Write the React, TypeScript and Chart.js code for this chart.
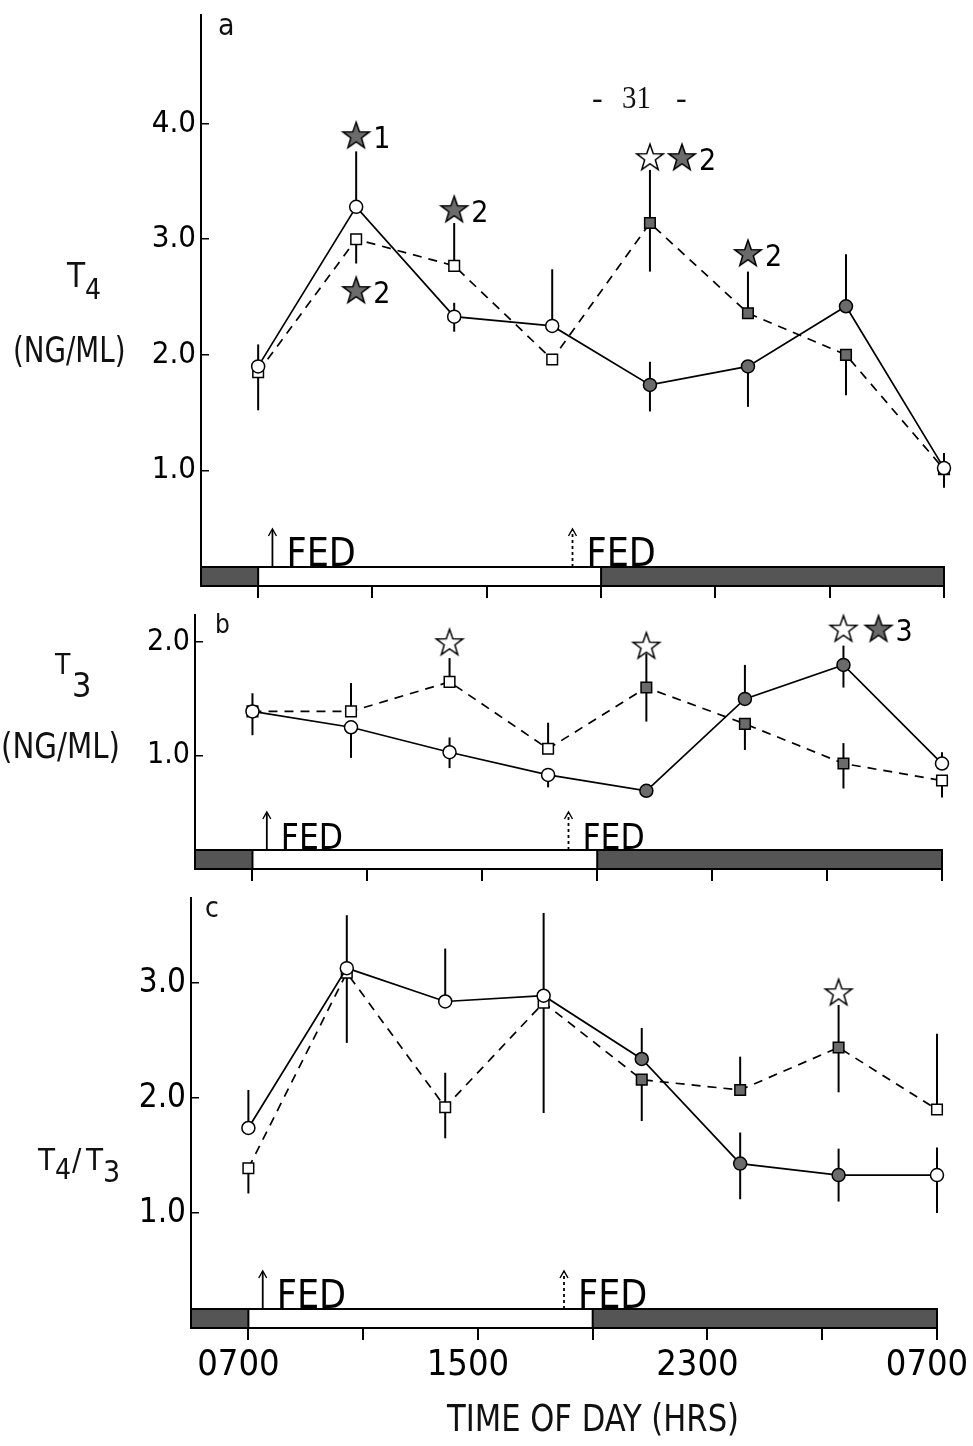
import React, { useEffect, useRef } from "react";
import { Chart, registerables } from "chart.js";

Chart.register(...registerables);

const FONT = '"Liberation Sans Narrow", "DejaVu Sans Condensed", "Roboto Condensed", "Liberation Sans", sans-serif';
const SERIF = '"Liberation Serif", "DejaVu Serif", serif';
const GREY = "#6b6b6b";
const DARK = "#555555";
const CANVAS_W = 1100;

// ---------- shared time axis (hours after 07:00) ----------
const SAMPLE_HOURS = [0, 3.43, 6.86, 10.29, 13.71, 17.14, 20.57, 24];
const NIGHT = [false, false, false, false, true, true, true, false];
const LIGHT_ON = 0;
const LIGHT_OFF = 12;
const FED_HOURS = [0.5, 11];
const FED_DOTTED = [false, true];
const X_TICKS = [0, 4, 8, 12, 16, 20, 24];
const X_TICK_LABELS = ["0700", "", "1500", "", "2300", "", "0700"];

// ---------- panel a : T4 (ng/ml) ----------
const T4_CIRCLE = [1.9, 3.28, 2.33, 2.25, 1.74, 1.9, 2.42, 1.02];
const T4_CIRCLE_ERR = [[1.52, 2.09], [3.28, 3.76], [2.2, 2.45], [2.25, 2.74], [1.51, 1.94], [1.55, 1.9], [2.42, 2.87], [0.85, 1.15]];
const T4_SQUARE = [1.85, 3.0, 2.77, 1.96, 3.14, 2.36, 2.0, 1.01];
const T4_SQUARE_ERR = [null, [2.79, 3.0], [2.77, 3.14], null, [2.72, 3.6], [2.36, 2.72], [1.65, 2.0], null];
const T4_STARS = [
  { x: 3.43, y: 3.9, filled: true, note: "1" },
  { x: 3.43, y: 2.56, filled: true, note: "2" },
  { x: 6.86, y: 3.26, filled: true, note: "2" },
  { x: 13.71, y: 3.71, filled: false, note: "" },
  { x: 14.83, y: 3.71, filled: true, note: "2" },
  { x: 17.14, y: 2.88, filled: true, note: "2" },
];
const T4_Y_TICKS = [1, 2, 3, 4];

// ---------- panel b : T3 (ng/ml) ----------
const T3_CIRCLE = [1.39, 1.25, 1.03, 0.83, 0.69, 1.5, 1.8, 0.93];
const T3_CIRCLE_ERR = [[1.18, 1.55], [0.98, 1.25], [0.89, 1.16], [0.72, 0.83], null, [1.5, 1.8], [1.6, 1.97], [0.93, 1.03]];
const T3_SQUARE = [1.39, 1.39, 1.65, 1.06, 1.6, 1.28, 0.93, 0.78];
const T3_SQUARE_ERR = [null, [1.39, 1.64], [1.65, 1.86], [1.06, 1.29], [1.3, 1.9], [1.05, 1.28], [0.71, 1.11], [0.63, 0.78]];
const T3_STARS = [
  { x: 6.86, y: 2.0, filled: false, note: "" },
  { x: 13.71, y: 1.97, filled: false, note: "" },
  { x: 20.57, y: 2.12, filled: false, note: "" },
  { x: 21.79, y: 2.12, filled: true, note: "3" },
];
const T3_Y_TICKS = [1, 2];

// ---------- panel c : T4/T3 ----------
const RATIO_CIRCLE = [1.74, 3.13, 2.84, 2.89, 2.34, 1.43, 1.33, 1.33];
const RATIO_CIRCLE_ERR = [[1.74, 2.07], [2.48, 3.59], [2.84, 3.3], [1.87, 3.61], [2.34, 2.61], [1.12, 1.7], [1.1, 1.56], [1.0, 1.57]];
const RATIO_SQUARE = [1.39, 3.09, 1.92, 2.83, 2.16, 2.07, 2.44, 1.9];
const RATIO_SQUARE_ERR = [[1.17, 1.39], null, [1.65, 2.22], null, [1.8, 2.16], [2.07, 2.36], [2.05, 2.81], [1.9, 2.56]];
const RATIO_STARS = [{ x: 20.57, y: 2.92, filled: false, note: "" }];
const RATIO_Y_TICKS = [1, 2, 3];

type Star = { x: number; y: number; filled: boolean; note: string };
type Spec = {
  circles: number[];
  circleErr: (number[] | null)[];
  squares: number[];
  squareErr: (number[] | null)[];
  stars: Star[];
  yTicks: number[];
  yMax: number;
  left: number;
  right: number;
  top: number;
  bottom: number;
  canvasTop: number;
  canvasBottom: number;
  yFont: number;
  fedFont: number;
  showX: boolean;
};

const PANEL_A: Spec = {
  circles: T4_CIRCLE, circleErr: T4_CIRCLE_ERR, squares: T4_SQUARE, squareErr: T4_SQUARE_ERR,
  stars: T4_STARS, yTicks: T4_Y_TICKS, yMax: 4.94,
  left: 201, right: 944, top: 15, bottom: 586, canvasTop: -35, canvasBottom: 646,
  yFont: 31, fedFont: 39, showX: false,
};
const PANEL_B: Spec = {
  circles: T3_CIRCLE, circleErr: T3_CIRCLE_ERR, squares: T3_SQUARE, squareErr: T3_SQUARE_ERR,
  stars: T3_STARS, yTicks: T3_Y_TICKS, yMax: 2.24,
  left: 195, right: 942, top: 615, bottom: 869, canvasTop: 565, canvasBottom: 929,
  yFont: 30, fedFont: 35, showX: false,
};
const PANEL_C: Spec = {
  circles: RATIO_CIRCLE, circleErr: RATIO_CIRCLE_ERR, squares: RATIO_SQUARE, squareErr: RATIO_SQUARE_ERR,
  stars: RATIO_STARS, yTicks: RATIO_Y_TICKS, yMax: 3.74,
  left: 191, right: 937, top: 898, bottom: 1328, canvasTop: 848, canvasBottom: 1446,
  yFont: 33, fedFont: 39, showX: true,
};

function makeStar(filled: boolean): HTMLCanvasElement {
  const c = document.createElement("canvas");
  c.width = 32;
  c.height = 32;
  const ctx = c.getContext("2d")!;
  ctx.beginPath();
  for (let i = 0; i < 10; i++) {
    const r = i % 2 === 0 ? 14 : 5.6;
    const a = -Math.PI / 2 + (i * Math.PI) / 5;
    const px = 16 + r * Math.cos(a);
    const py = 17 + r * Math.sin(a);
    if (i === 0) ctx.moveTo(px, py);
    else ctx.lineTo(px, py);
  }
  ctx.closePath();
  ctx.fillStyle = filled ? GREY : "#fff";
  ctx.fill();
  ctx.lineWidth = 1.5;
  ctx.strokeStyle = "#000";
  ctx.stroke();
  return c;
}

const lightBarPlugin = {
  id: "lightbar",
  beforeDatasetsDraw(chart: any, _a: any, opts: any) {
    const { ctx, chartArea: ca } = chart;
    const xs = chart.scales.x;
    const h = opts.thickness;
    const top = ca.bottom - h;
    const xOn = xs.getPixelForValue(LIGHT_ON);
    const xOff = xs.getPixelForValue(LIGHT_OFF);
    ctx.save();
    ctx.fillStyle = DARK;
    ctx.fillRect(ca.left, top, xOn - ca.left, h);
    ctx.fillRect(xOff, top, ca.right - xOff, h);
    ctx.fillStyle = "#fff";
    ctx.fillRect(xOn, top, xOff - xOn, h);
    ctx.strokeStyle = "#000";
    ctx.lineWidth = 2;
    ctx.strokeRect(ca.left, top, ca.right - ca.left, h);
    ctx.beginPath();
    ctx.moveTo(xOn, top);
    ctx.lineTo(xOn, ca.bottom);
    ctx.moveTo(xOff, top);
    ctx.lineTo(xOff, ca.bottom);
    ctx.stroke();
    ctx.restore();
  },
};

const errorBarPlugin = {
  id: "errbars",
  beforeDatasetsDraw(chart: any) {
    const { ctx } = chart;
    const xs = chart.scales.x;
    const ys = chart.scales.y;
    ctx.save();
    ctx.strokeStyle = "#000";
    ctx.lineWidth = 2;
    ctx.setLineDash([]);
    chart.data.datasets.forEach((ds: any) => {
      if (!ds.errorBars) return;
      ds.errorBars.forEach((e: number[] | null, i: number) => {
        if (!e) return;
        const x = xs.getPixelForValue(ds.data[i].x);
        ctx.beginPath();
        ctx.moveTo(x, ys.getPixelForValue(e[0]));
        ctx.lineTo(x, ys.getPixelForValue(e[1]));
        ctx.stroke();
      });
    });
    ctx.restore();
  },
};

const annotationPlugin = {
  id: "notes",
  afterDatasetsDraw(chart: any, _a: any, opts: any) {
    const { ctx, chartArea: ca } = chart;
    const xs = chart.scales.x;
    const ys = chart.scales.y;
    ctx.save();
    // star notes
    ctx.fillStyle = "#000";
    ctx.font = `30px ${FONT}`;
    ctx.textAlign = "left";
    ctx.textBaseline = "middle";
    chart.data.datasets.forEach((ds: any) => {
      if (!ds.starNotes) return;
      ds.starNotes.forEach((n: string, i: number) => {
        if (!n) return;
        ctx.fillText(n, xs.getPixelForValue(ds.data[i].x) + 17, ys.getPixelForValue(ds.data[i].y) + 5);
      });
    });
    // FED arrows
    const barTop = ca.bottom - opts.thickness;
    FED_HOURS.forEach((hr, i) => {
      const x = xs.getPixelForValue(hr);
      ctx.strokeStyle = "#000";
      ctx.lineWidth = 1.8;
      ctx.setLineDash(FED_DOTTED[i] ? [3, 3] : []);
      ctx.beginPath();
      ctx.moveTo(x, barTop);
      ctx.lineTo(x, barTop - 37);
      ctx.stroke();
      ctx.setLineDash([]);
      ctx.lineWidth = 1.4;
      ctx.beginPath();
      ctx.moveTo(x - 4, barTop - 31);
      ctx.lineTo(x, barTop - 38);
      ctx.lineTo(x + 4, barTop - 31);
      ctx.stroke();
      ctx.font = `${opts.fedFont}px ${FONT}`;
      ctx.textBaseline = "alphabetic";
      ctx.fillText("FED", x + 14, barTop - 1);
    });
    ctx.restore();
  },
};

function buildConfig(p: Spec): any {
  const starF = makeStar(true);
  const starO = makeStar(false);
  const fills = NIGHT.map((n) => (n ? GREY : "#fff"));
  return {
    type: "line",
    data: {
      datasets: [
        {
          data: p.stars.map((s) => ({ x: s.x, y: s.y })),
          showLine: false,
          pointStyle: p.stars.map((s) => (s.filled ? starF : starO)),
          pointRadius: 14,
          clip: false,
          starNotes: p.stars.map((s) => s.note),
        },
        {
          data: p.circles.map((v, i) => ({ x: SAMPLE_HOURS[i], y: v })),
          borderColor: "#000",
          borderWidth: 1.7,
          pointStyle: "circle",
          pointRadius: 6.5,
          pointBorderWidth: 1.5,
          pointBorderColor: "#000",
          pointBackgroundColor: fills,
          tension: 0,
          clip: false,
          errorBars: p.circleErr,
        },
        {
          data: p.squares.map((v, i) => ({ x: SAMPLE_HOURS[i], y: v })),
          borderColor: "#000",
          borderWidth: 1.7,
          borderDash: [9, 7],
          pointStyle: "rect",
          pointRadius: 7.5,
          pointBorderWidth: 1.5,
          pointBorderColor: "#000",
          pointBackgroundColor: fills,
          tension: 0,
          clip: false,
          errorBars: p.squareErr,
        },
      ],
    },
    options: {
      animation: false,
      responsive: false,
      maintainAspectRatio: false,
      events: [],
      layout: { padding: { top: p.top - p.canvasTop, right: CANVAS_W - p.right, left: 0, bottom: 0 } },
      plugins: {
        legend: { display: false },
        tooltip: { enabled: false },
        lightbar: { thickness: 19 },
        notes: { thickness: 19, fedFont: p.fedFont },
      },
      scales: {
        x: {
          type: "linear",
          min: -2,
          max: 24,
          afterBuildTicks: (s: any) => {
            s.ticks = X_TICKS.map((v) => ({ value: v }));
          },
          afterFit: (s: any) => {
            s.height = p.canvasBottom - p.bottom;
          },
          border: { display: false },
          grid: { display: true, drawOnChartArea: false, drawTicks: true, tickLength: 12, color: "#000", lineWidth: 2 },
          ticks: {
            display: p.showX,
            autoSkip: false,
            maxRotation: 0,
            minRotation: 0,
            padding: 4,
            labelOffset: -10,
            color: "#000",
            font: { family: FONT, size: 36 },
            callback: (_v: any, i: number) => X_TICK_LABELS[i],
          },
        },
        y: {
          type: "linear",
          min: 0,
          max: p.yMax,
          afterBuildTicks: (s: any) => {
            s.ticks = p.yTicks.map((v) => ({ value: v }));
          },
          afterFit: (s: any) => {
            s.width = p.left;
          },
          border: { display: true, color: "#000", width: 2 },
          grid: { display: true, drawOnChartArea: false, drawTicks: true, tickLength: -8, color: "#000", lineWidth: 1.5 },
          ticks: {
            autoSkip: false,
            padding: 13,
            color: "#000",
            font: { family: FONT, size: p.yFont },
            callback: (v: any) => Number(v).toFixed(1),
          },
        },
      },
    },
    plugins: [lightBarPlugin, errorBarPlugin, annotationPlugin],
  };
}

function PanelChart({ spec }: { spec: Spec }) {
  const ref = useRef<HTMLCanvasElement>(null);
  useEffect(() => {
    const chart = new Chart(ref.current!, buildConfig(spec));
    return () => chart.destroy();
  }, [spec]);
  const h = spec.canvasBottom - spec.canvasTop;
  return (
    <canvas
      ref={ref}
      width={CANVAS_W}
      height={h}
      style={{ position: "absolute", left: 0, top: spec.canvasTop, width: CANVAS_W, height: h }}
    />
  );
}

function Txt({
  left, top, size, children, family = FONT, sx = 1,
}: { left: number; top: number; size: number; children: React.ReactNode; family?: string; sx?: number }) {
  return (
    <div
      style={{
        position: "absolute",
        left,
        top,
        fontSize: size,
        lineHeight: 1,
        fontFamily: family,
        color: "#111",
        whiteSpace: "pre",
        transform: sx === 1 ? undefined : `scaleX(${sx})`,
        transformOrigin: "left top",
      }}
    >
      {children}
    </div>
  );
}

export default function App() {
  return (
    <div style={{ position: "absolute", left: 0, top: 0, width: 973, height: 1446, overflow: "hidden", background: "#fff" }}>
      <PanelChart spec={PANEL_A} />
      <PanelChart spec={PANEL_B} />
      <PanelChart spec={PANEL_C} />

      {/* page number */}
      <Txt left={592} top={81} size={32} family={SERIF}>-</Txt>
      <Txt left={622} top={81} size={32} family={SERIF} sx={0.9}>31</Txt>
      <Txt left={676} top={81} size={32} family={SERIF}>-</Txt>

      {/* panel letters */}
      <Txt left={218} top={10} size={30}>a</Txt>
      <Txt left={215} top={611} size={26}>b</Txt>
      <Txt left={205} top={894} size={28}>c</Txt>

      {/* panel a y label */}
      <Txt left={67} top={259} size={33}>T</Txt>
      <Txt left={85} top={276} size={28}>4</Txt>
      <Txt left={13} top={333} size={35} sx={0.88}>(NG/ML)</Txt>

      {/* panel b y label */}
      <Txt left={55} top={651} size={28}>T</Txt>
      <Txt left={72} top={668} size={34}>3</Txt>
      <Txt left={1} top={729} size={35} sx={0.93}>(NG/ML)</Txt>

      {/* panel c y label */}
      <Txt left={38} top={1144} size={31}>T</Txt>
      <Txt left={55} top={1156} size={28}>4</Txt>
      <Txt left={72} top={1144} size={31}>/</Txt>
      <Txt left={86} top={1144} size={31}>T</Txt>
      <Txt left={103} top={1157} size={30}>3</Txt>

      {/* x axis title */}
      <Txt left={447} top={1400} size={37} sx={0.92}>TIME OF DAY (HRS)</Txt>
    </div>
  );
}
